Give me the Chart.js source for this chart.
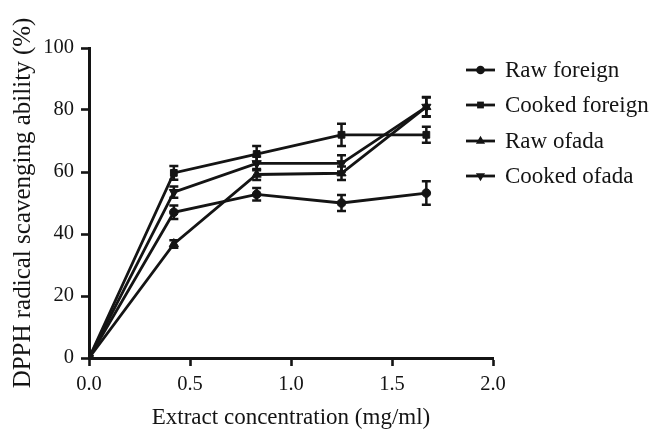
<!DOCTYPE html>
<html>
<head>
<meta charset="utf-8">
<script src="https://cdn.jsdelivr.net/npm/chart.js@4.4.1/dist/chart.umd.min.js"></script>
<style>
html,body{margin:0;padding:0;background:#fff;}
#wrap{width:653px;height:429px;position:relative;}
</style>
</head>
<body>
<div id="wrap"><canvas id="c" width="653" height="429"></canvas></div>
<script>
// concentrations (mg/ml)
const concentrations = [0, 0.42, 0.83, 1.25, 1.67];
const seriesNames = ["Raw foreign", "Cooked foreign", "Raw ofada", "Cooked ofada"];
const rawForeign     = [0, 47.0, 52.8, 50.0, 53.2];
const cookedForeign  = [0, 59.7, 65.8, 72.0, 72.0];
const rawOfada       = [0, 36.8, 59.2, 59.6, 81.0];
const cookedOfada    = [0, 53.5, 62.8, 62.8, 81.0];
const rawForeignErr    = [0, 2.2, 2.0, 2.6, 3.8];
const cookedForeignErr = [0, 2.2, 2.6, 3.6, 2.6];
const rawOfadaErr      = [0, 1.2, 1.8, 2.2, 3.0];
const cookedOfadaErr   = [0, 1.8, 2.2, 2.6, 3.2];
const xTicks = [0, 0.5, 1.0, 1.5, 2.0];
const yTicks = [0, 20, 40, 60, 80, 100];

const INK = '#141414';
const FONT = "'Liberation Serif', 'Times New Roman', serif";

const values = [rawForeign, cookedForeign, rawOfada, cookedOfada];
const errors = [rawForeignErr, cookedForeignErr, rawOfadaErr, cookedOfadaErr];
const styles = [
  {pointStyle:'circle', rotation:0, radius:4.3},
  {pointStyle:'rect', rotation:0, radius:4.8},
  {pointStyle:'triangle', rotation:0, radius:5.3},
  {pointStyle:'triangle', rotation:180, radius:5.3}
];

const datasets = seriesNames.map((name, i) => ({
  label: name,
  data: concentrations.map((x, j) => ({x: x, y: values[i][j]})),
  borderColor: INK,
  backgroundColor: INK,
  borderWidth: 2.8,
  pointStyle: styles[i].pointStyle,
  rotation: styles[i].rotation,
  pointRadius: styles[i].radius,
  pointHoverRadius: styles[i].radius,
  pointBackgroundColor: INK,
  pointBorderColor: INK,
  pointBorderWidth: 1,
  tension: 0,
  fill: false,
  errors: errors[i]
}));

const errorBarPlugin = {
  id: 'errorBars',
  afterDatasetsDraw(chart) {
    const ctx = chart.ctx;
    const xs = chart.scales.x, ys = chart.scales.y;
    ctx.save();
    ctx.strokeStyle = INK;
    ctx.lineWidth = 2.5;
    chart.data.datasets.forEach(ds => {
      ds.data.forEach((p, j) => {
        const e = ds.errors[j];
        if (!e) return;
        const px = xs.getPixelForValue(p.x);
        const yt = ys.getPixelForValue(p.y + e);
        const yb = ys.getPixelForValue(p.y - e);
        const cw = 4.5;
        ctx.beginPath();
        ctx.moveTo(px, yt); ctx.lineTo(px, yb);
        ctx.moveTo(px - cw, yt); ctx.lineTo(px + cw, yt);
        ctx.moveTo(px - cw, yb); ctx.lineTo(px + cw, yb);
        ctx.stroke();
      });
    });
    ctx.restore();
  }
};

function drawMarker(ctx, style, r, x, y) {
  ctx.beginPath();
  if (style.pointStyle === 'circle') {
    ctx.arc(x, y, r, 0, Math.PI * 2);
  } else if (style.pointStyle === 'rect') {
    const s = r * Math.SQRT1_2 * 2;
    ctx.rect(x - s/2, y - s/2, s, s);
  } else {
    const dir = style.rotation === 180 ? -1 : 1;
    ctx.moveTo(x, y - dir * r);
    ctx.lineTo(x - r * 0.866, y + dir * r * 0.5);
    ctx.lineTo(x + r * 0.866, y + dir * r * 0.5);
    ctx.closePath();
  }
  ctx.fill();
}

const legendPlugin = {
  id: 'customLegend',
  afterDraw(chart) {
    const ctx = chart.ctx;
    ctx.save();
    const rows = [70, 105, 141, 176];
    ctx.font = "23px " + FONT;
    ctx.textBaseline = 'middle';
    ctx.fillStyle = INK;
    ctx.strokeStyle = INK;
    chart.data.datasets.forEach((ds, i) => {
      const y = rows[i];
      ctx.lineWidth = 2.8;
      ctx.beginPath();
      ctx.moveTo(466, y); ctx.lineTo(495, y);
      ctx.stroke();
      drawMarker(ctx, styles[i], styles[i].radius, 480.5, y);
      ctx.fillText(ds.label, 505, y + 1);
    });
    ctx.restore();
  }
};

new Chart(document.getElementById('c'), {
  type: 'line',
  data: { datasets: datasets },
  plugins: [errorBarPlugin, legendPlugin],
  options: {
    responsive: false,
    animation: false,
    devicePixelRatio: 1,
    layout: { padding: { left: 0, right: 160, top: 48, bottom: 0 } },
    plugins: { legend: { display: false }, tooltip: { enabled: false } },
    scales: {
      x: {
        type: 'linear',
        min: 0, max: 2,
        afterFit: s => { s.height = 71; },
        afterBuildTicks: s => { s.ticks = xTicks.map(v => ({value: v})); },
        ticks: { color: INK, font: { family: FONT, size: 20.5 }, padding: 6,
                 callback: v => Number(v).toFixed(1), maxRotation: 0 },
        grid: { display: true, drawOnChartArea: false, drawTicks: true, tickLength: 8,
                tickWidth: 2.6, tickColor: INK },
        border: { display: true, color: INK, width: 3 },
        title: { display: true, text: 'Extract concentration (mg/ml)', color: INK,
                 font: { family: FONT, size: 23 }, padding: { top: 0, bottom: -3 } }
      },
      y: {
        min: 0, max: 100,
        afterFit: s => { s.width = 89; },
        afterBuildTicks: s => { s.ticks = yTicks.map(v => ({value: v})); },
        ticks: { color: INK, font: { family: FONT, size: 20.5 }, padding: 7 },
        grid: { display: true, drawOnChartArea: false, drawTicks: true, tickLength: 8,
                tickWidth: 2.6, tickColor: INK },
        border: { display: true, color: INK, width: 3 },
        title: { display: true, text: 'DPPH radical scavenging ability (%)', color: INK,
                 font: { family: FONT, size: 25 }, padding: { top: 8, bottom: 0 } }
      }
    }
  }
});
</script>
</body>
</html>
